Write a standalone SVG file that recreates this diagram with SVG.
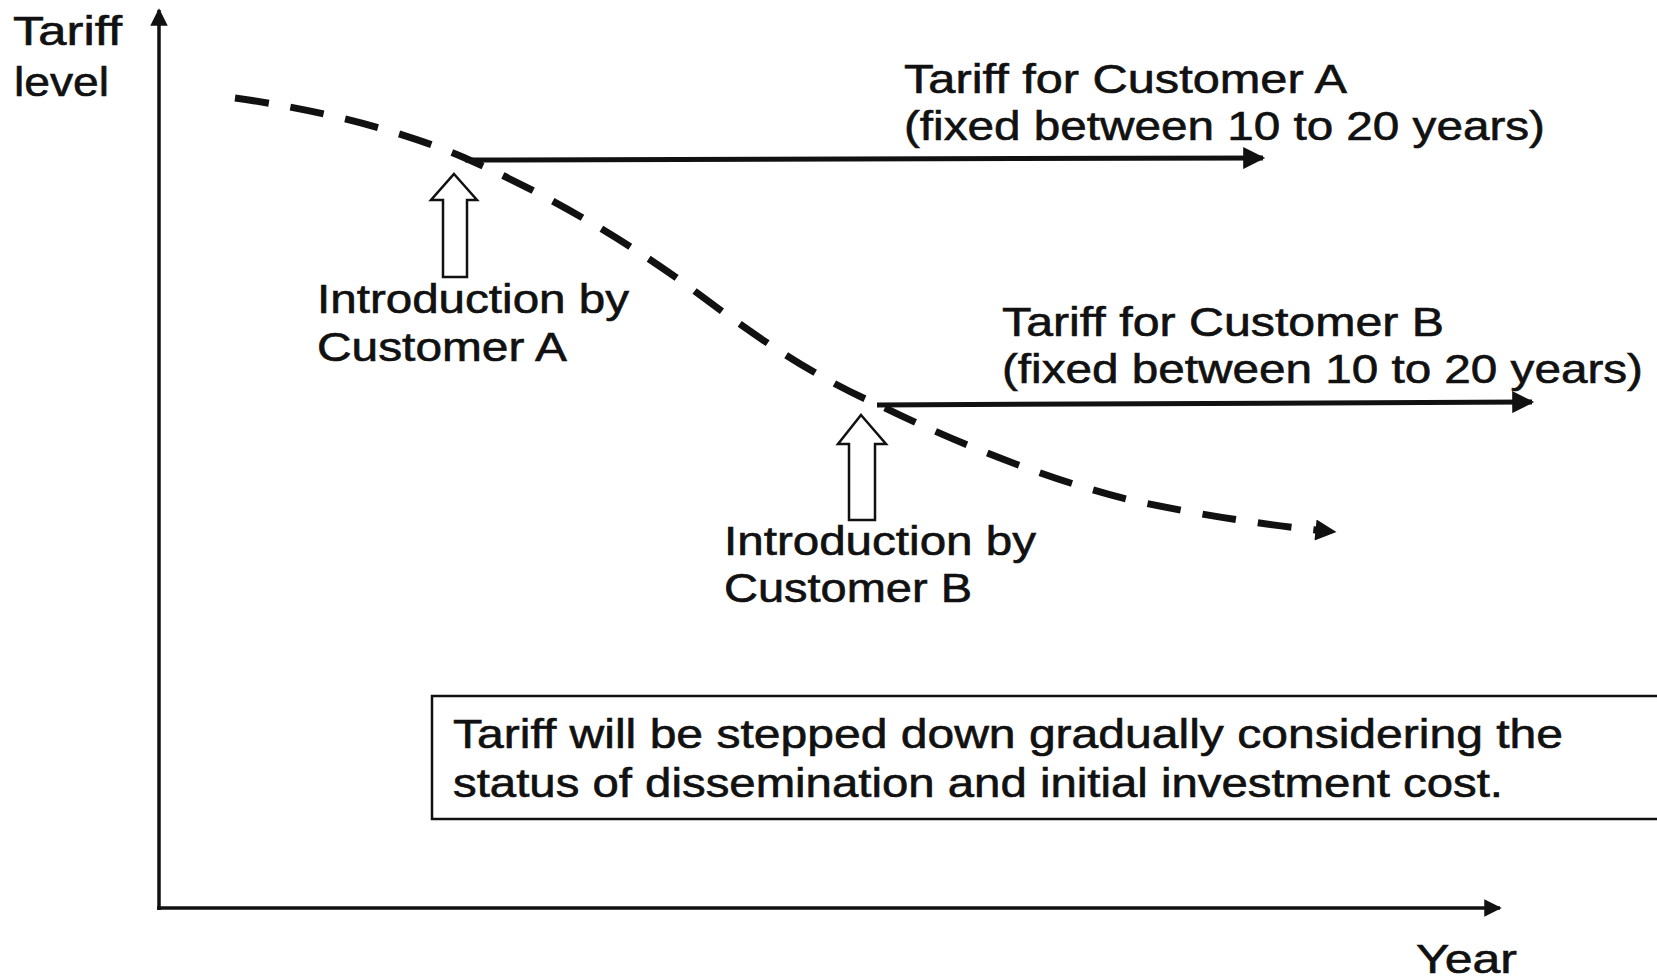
<svg xmlns="http://www.w3.org/2000/svg" width="1657" height="980" viewBox="0 0 1657 980">
<style>
text{font-family:"Liberation Sans",Arial,sans-serif;font-size:40px;fill:#111;stroke:#111;stroke-width:0.6}
.ax{stroke:#111;stroke-width:3.5;fill:none}
.ln{stroke:#111;stroke-width:5;fill:none}
.dash{stroke:#111;stroke-width:7;fill:none;stroke-dasharray:34 22}
.up{fill:#fff;stroke:#111;stroke-width:2.5}
</style>
<defs>
<marker id="ah" viewBox="0 0 10 10" refX="9" refY="5" markerWidth="5" markerHeight="4.4" markerUnits="strokeWidth" orient="auto"><path d="M0,0 L10,5 L0,10 Z" fill="#111"/></marker>
<marker id="ahs" viewBox="0 0 10 10" refX="9" refY="5" markerWidth="6" markerHeight="5" markerUnits="strokeWidth" orient="auto"><path d="M0,0 L10,5 L0,10 Z" fill="#111"/></marker>
<marker id="ahd" viewBox="0 0 10 10" refX="5" refY="5" markerWidth="3.4" markerHeight="3" markerUnits="strokeWidth" orient="auto"><path d="M0,0 L10,5 L0,10 Z" fill="#111"/></marker>
</defs>
<g id="axes">
<line class="ax" x1="159" y1="910" x2="159" y2="10" marker-end="url(#ahs)"/>
<line class="ax" x1="157" y1="908" x2="1500" y2="908" marker-end="url(#ahs)"/>
</g>
<g id="label-y"><text x="13" y="45" textLength="109" lengthAdjust="spacingAndGlyphs">Tariff</text><text x="14" y="96" textLength="95" lengthAdjust="spacingAndGlyphs">level</text></g>
<g id="label-x"><text x="1416" y="973" textLength="101" lengthAdjust="spacingAndGlyphs">Year</text></g>
<g id="connectors">
<path class="dash" d="M235,98 C320,110 400,130 465,158 C560,200 640,250 700,295 C760,340 820,380 877,404 C960,445 1050,480 1130,500 C1200,515 1265,525 1326,531" marker-end="url(#ahd)"/>
<line class="ln" x1="465" y1="160" x2="1263" y2="158" marker-end="url(#ah)"/>
<line class="ln" x1="877" y1="405" x2="1532" y2="402" marker-end="url(#ah)"/>
</g>
<g id="arrow-a"><path class="up" d="M454,174 L477,200 L467,200 L467,277 L443,277 L443,200 L431,200 Z"/></g>
<g id="arrow-b"><path class="up" d="M861,415 L886,444 L875,444 L875,520 L849,520 L849,444 L838,444 Z"/></g>
<g id="tariff-a"><text x="904" y="93" textLength="443" lengthAdjust="spacingAndGlyphs">Tariff for Customer A</text><text x="904" y="140" textLength="641" lengthAdjust="spacingAndGlyphs">(fixed between 10 to 20 years)</text></g>
<g id="intro-a"><text x="317" y="313" textLength="312" lengthAdjust="spacingAndGlyphs">Introduction by</text><text x="317" y="361" textLength="250" lengthAdjust="spacingAndGlyphs">Customer A</text></g>
<g id="tariff-b"><text x="1002" y="336" textLength="442" lengthAdjust="spacingAndGlyphs">Tariff for Customer B</text><text x="1002" y="383" textLength="641" lengthAdjust="spacingAndGlyphs">(fixed between 10 to 20 years)</text></g>
<g id="intro-b"><text x="724" y="555" textLength="312" lengthAdjust="spacingAndGlyphs">Introduction by</text><text x="724" y="602" textLength="248" lengthAdjust="spacingAndGlyphs">Customer B</text></g>
<g id="note">
<rect x="432" y="696" width="1240" height="123" fill="none" stroke="#111" stroke-width="2.5"/>
<text x="453" y="748" textLength="1110" lengthAdjust="spacingAndGlyphs">Tariff will be stepped down gradually considering the</text>
<text x="453" y="797" textLength="1050" lengthAdjust="spacingAndGlyphs">status of dissemination and initial investment cost.</text>
</g>
</svg>
